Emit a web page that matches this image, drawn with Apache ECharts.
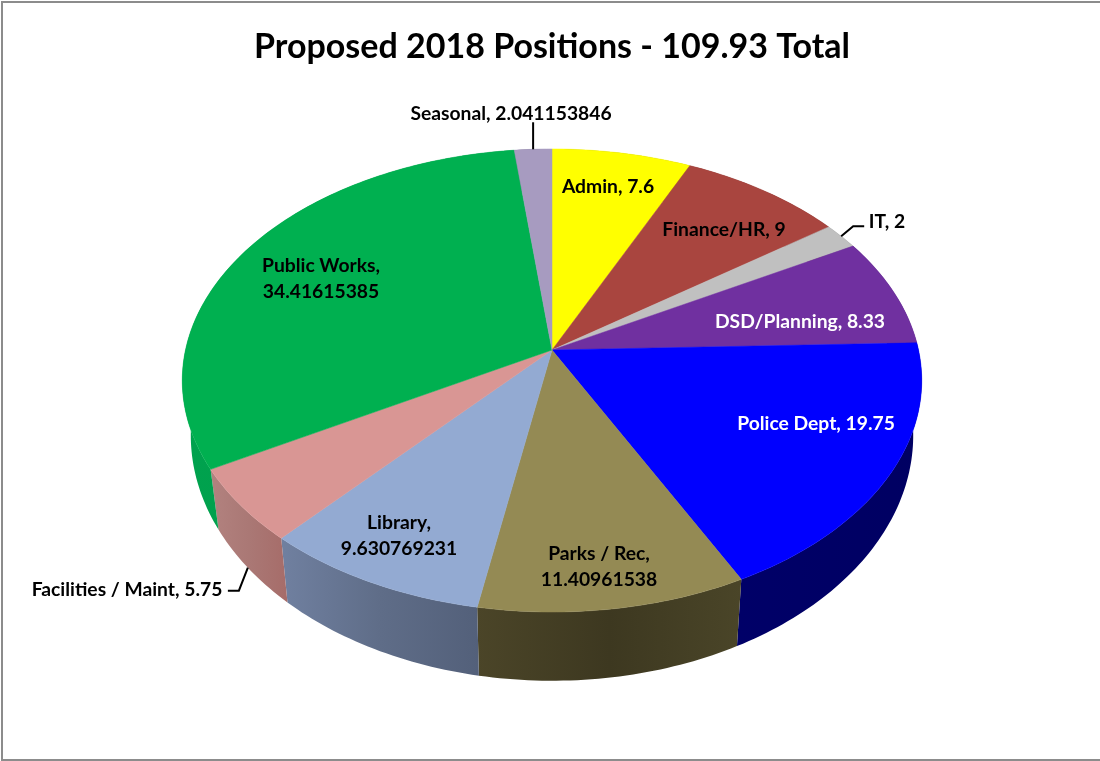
<!DOCTYPE html>
<html>
<head>
<meta charset="utf-8">
<style>html,body{margin:0;padding:0;background:#fff}#chart{width:1100px;height:761px}</style>
<script src="https://cdn.jsdelivr.net/npm/echarts@6/dist/echarts.min.js"></script>
</head>
<body>
<div id="chart"></div>
<script>
// Staffing data, clockwise from twelve o'clock
const departments = ['Admin', 'Finance/HR', 'IT', 'DSD/Planning', 'Police Dept', 'Parks / Rec', 'Library', 'Facilities / Maint', 'Public Works', 'Seasonal'];
const positions = [7.6, 9, 2, 8.33, 19.75, 11.40961538, 9.630769231, 5.75, 34.41615385, 2.041153846];
const chartTitle = 'Proposed 2018 Positions - 109.93 Total';

// Appearance of each slice
const topColors = ['#ffff00', '#a9453f', '#c0c0c0', '#7030a0', '#0000ff', '#948a54', '#93aad2', '#d99694', '#00b050', '#a79bc0'];
const wallColors = [
  ['#a0a000', '#a0a000'], ['#6f2c28', '#6f2c28'], ['#808080', '#808080'], ['#4a2070', '#4a2070'],
  ['#000068', '#000062'], ['#4b4528', '#3d3820', '#4a4528'], ['#7080a0', '#5f6d88', '#53607a'],
  ['#b2827f', '#aa7875', '#a66c69'], ['#00a24e', '#009a49'], ['#6f6680', '#6f6680']
];
const labelColors = ['#000', '#000', '#000', '#fff', '#fff', '#000', '#000', '#000', '#000', '#000'];
const twoLineLabels = [false, false, false, false, false, true, true, false, true, false];
const labelCentres = [[608, 187], [724, 230], [887, 222], [800, 322], [816, 424], [599, 567], [399, 536], [127, 590], [321, 279], [511, 114]];
// Leader lines: which rim they leave from and the elbow offsets in pixels
const leaders = { 2: { rim: 'top', elbows: [[12, -10], [23, -10]] }, 7: { rim: 'floor', elbows: [[-9, 23], [-20, 23]] }, 9: { rim: 'top', elbows: [[0, -27]] } };

// Perspective of the tilted disc, in units of the disc radius
const tilt = 0.1317;
const floorScaleX = 0.977, floorScaleY = 1.06, floorDrop = 0.233;

const total = positions.reduce((a, b) => a + b, 0);
let running = 0;
const sliceRanges = positions.map(v => { const r = [running, running + v]; running += v; return r; });

function rimPoint(share) {
  const a = share / total * Math.PI * 2;
  const d = 1 + tilt * Math.cos(a);
  return [Math.sin(a) / d, Math.cos(a) / d];
}
function toFloor(p) { return [p[0] * floorScaleX, p[1] * floorScaleY - floorDrop]; }
function arc(from, to) {
  const n = Math.max(2, Math.ceil((to - from) / total * 360));
  const pts = [];
  for (let i = 0; i <= n; i++) pts.push(rimPoint(from + (to - from) * i / n));
  return pts;
}
function gradient(stops) {
  return new echarts.graphic.LinearGradient(0, 0, 1, 0,
    stops.map((c, i) => ({ offset: i / (stops.length - 1), color: c })));
}

function renderWall(params, api) {
  const i = params.dataIndex;
  const top = arc(api.value(0), api.value(1));
  const ring = top.concat(top.slice().reverse().map(toFloor)).map(p => api.coord(p));
  return { type: 'polygon', shape: { points: ring }, style: { fill: gradient(wallColors[i]) } };
}
function renderTop(params, api) {
  const i = params.dataIndex;
  const pts = [[0, 0]].concat(arc(api.value(0), api.value(1))).map(p => api.coord(p));
  return { type: 'polygon', shape: { points: pts }, style: { fill: topColors[i], stroke: topColors[i], lineWidth: 0.5 } };
}
function renderLabel(params, api) {
  const i = params.dataIndex;
  const sep = twoLineLabels[i] ? ',\n' : ', ';
  const children = [{
    type: 'text',
    style: {
      x: labelCentres[i][0], y: labelCentres[i][1], text: departments[i] + sep + positions[i],
      fill: labelColors[i], font: 'bold 19.3px Lato', lineHeight: 26, align: 'center', verticalAlign: 'middle'
    }
  }];
  const leader = leaders[i];
  if (leader) {
    const mid = rimPoint((api.value(0) + api.value(1)) / 2);
    const start = api.coord(leader.rim === 'floor' ? toFloor(mid) : mid);
    const pts = [start].concat(leader.elbows.map(o => [start[0] + o[0], start[1] + o[1]]));
    children.push({ type: 'polyline', shape: { points: pts }, style: { fill: null, stroke: '#000', lineWidth: 2 } });
  }
  return { type: 'group', children: children };
}

const chart = echarts.init(document.getElementById('chart'), null, { renderer: 'canvas' });
const baseSeries = { type: 'custom', coordinateSystem: 'cartesian2d', data: sliceRanges, encode: { x: 0, y: 1 }, silent: true, clip: false };
chart.setOption({
  animation: false,
  backgroundColor: '#fff',
  title: {
    text: chartTitle, left: 547, top: 42, textAlign: 'center', textVerticalAlign: 'middle',
    textStyle: { fontFamily: 'Lato', fontWeight: 'bold', fontSize: 34, color: '#000' }
  },
  grid: { left: 185.5, width: 733, top: 122.5, height: 455 },
  xAxis: { type: 'value', min: -1, max: 1, show: false },
  yAxis: { type: 'value', min: -1, max: 1, show: false },
  tooltip: { show: false },
  graphic: [{
    type: 'polyline', silent: true,
    shape: { points: [[1100, 2], [2, 2], [2, 760], [1100, 760]] },
    style: { fill: null, stroke: '#8c8c8c', lineWidth: 2 }
  }],
  series: [
    Object.assign({}, baseSeries, { z: 1, renderItem: renderWall }),
    Object.assign({}, baseSeries, { z: 2, renderItem: renderTop }),
    Object.assign({}, baseSeries, { z: 3, renderItem: renderLabel })
  ]
});
</script>
</body>
</html>
